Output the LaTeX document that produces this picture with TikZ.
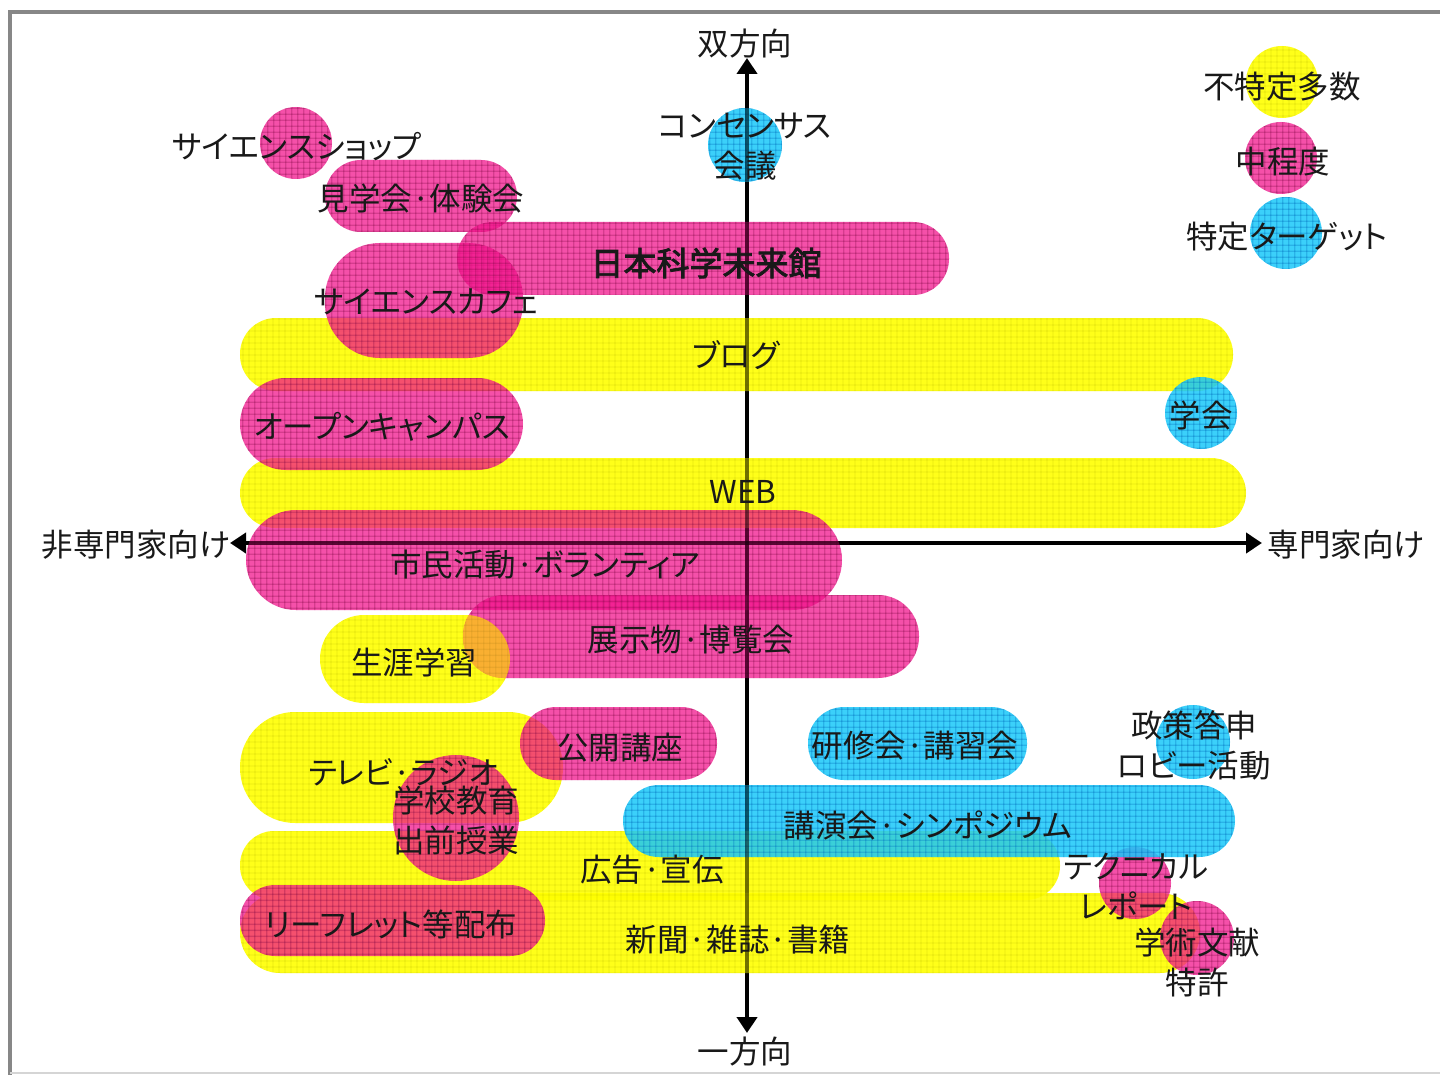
\documentclass[tikz,border=0pt]{standalone}
\usepackage{fontspec}
\newfontfamily\jp[RawFeature=+palt,AutoFakeBold=2.5]{Noto Sans CJK JP}
\usetikzlibrary{arrows.meta,patterns.meta}
\definecolor{cY}{RGB}{255,255,0}
\definecolor{cP}{RGB}{242,20,140}
\definecolor{cB}{RGB}{25,200,250}
\definecolor{gY}{RGB}{190,190,0}
\definecolor{gP}{RGB}{125,5,65}
\definecolor{gB}{RGB}{0,110,190}
\definecolor{framecol}{RGB}{135,135,135}
\definecolor{ink}{RGB}{25,25,25}
\tikzset{
  yel/.style={fill=cY, fill opacity=0.9,
    postaction={pattern={Hatch[angle=0,distance=6.4pt,line width=0.35pt]}, pattern color=gY}},
  pnk/.style={fill=cP, fill opacity=0.74,
    postaction={pattern={Hatch[angle=0,distance=6.4pt,line width=0.55pt]}, pattern color=gP}},
  blu/.style={fill=cB, fill opacity=0.85,
    postaction={pattern={Hatch[angle=0,distance=6.4pt,line width=0.45pt]}, pattern color=gB}},
  yelveil/.style={fill=cY, fill opacity=0.55},
  lbl/.style={font=\jp\fontsize{31.5}{40}\selectfont, text=ink, inner sep=0pt, align=center},
  axisline/.style={line width=4.5pt, draw=black,
    {Triangle[length=16pt,width=20pt]}-{Triangle[length=16pt,width=20pt]}},
  axisover/.style={line width=4.5pt, draw=black, draw opacity=0.5,
    shorten >=16pt, shorten <=16pt},
  framel/.style={draw=framecol, line width=4.5pt},
}
\begin{document}
\begin{tikzpicture}[x=1pt,y=-1pt]
\useasboundingbox (0,0) rectangle (1440,1075);
\fill[white] (0,0) rectangle (1440,1075);
% frame
\coordinate (fbl) at (10,1075);
\coordinate (ftl) at (10,12);
\coordinate (ftr) at (1440,12);
\draw[framel] (fbl) -- (ftl) -- (ftr);
\draw[draw=framecol!35, line width=2pt] (10,1073) -- (1440,1073);

% axes
\coordinate (vtop) at (747,58);
\coordinate (vbot) at (747,1033);
\coordinate (hl) at (230,543);
\coordinate (hr) at (1262,543);
\draw[axisline] (vbot) -- (vtop);
\draw[axisline] (hl) -- (hr);

% ---------- yellow shapes
\path[yel, rounded corners=36pt] (240,318) rectangle (1233,391);
\path[yel, rounded corners=35pt] (240,458) rectangle (1246,528);
\path[yel, rounded corners=44pt] (320,615) rectangle (510,703);
\path[yel, rounded corners=55pt] (240,712) rectangle (563,823);
\path[yel, rounded corners=34pt] (240,831) rectangle (1060,900);
\path[yel, rounded corners=40pt] (240,893) rectangle (1200,973);
\path[yel] (1282,82) circle[radius=36pt];

% ---------- pink shapes
\path[pnk] (296,143) circle[radius=36pt];
\path[pnk, rounded corners=36pt] (325,160) rectangle (517,232);
\path[pnk, rounded corners=36pt] (457,222) rectangle (949,295);
\path[pnk, rounded corners=55pt] (325,243) rectangle (523,358);
\path[pnk, rounded corners=46pt] (240,378) rectangle (523,470);
\path[pnk, rounded corners=50pt] (246,510) rectangle (842,610);
\path[pnk, rounded corners=41pt] (463,595) rectangle (919,678);
\path[pnk, rounded corners=36pt] (520,707) rectangle (717,780);
\path[pnk] (456,818) circle[radius=63pt];
\path[pnk] (1135,883) circle[radius=36pt];
\path[pnk, rounded corners=35pt] (240,885) rectangle (545,956);
\path[pnk] (1197,938) circle[radius=37pt];
\path[pnk] (1281,158) circle[radius=36pt];

% the lifelong-learning pill lies over the exhibition pill
\begin{scope}
  \clip[rounded corners=41pt] (463,595) rectangle (919,678);
  \path[yelveil, rounded corners=44pt] (320,615) rectangle (510,703);
\end{scope}

% ---------- blue shapes
\path[blu] (745,145) circle[radius=37pt];
\path[blu] (1201,413) circle[radius=36pt];
\path[blu, rounded corners=36pt] (808,707) rectangle (1027,780);
\path[blu] (1193,742) circle[radius=37pt];
\path[blu, rounded corners=36pt] (623,785) rectangle (1235,857);
\path[blu] (1286,233) circle[radius=36pt];

% axes seen through the shapes
\draw[axisover] (vbot) -- (vtop);
\draw[axisover] (hl) -- (hr);

% ---------- labels
\node[lbl] (lup) at (745,44) {双方向};
\node[lbl] (ldown) at (745,1052) {一方向};
\node[lbl] (lleft) at (136,545) {非専門家向け};
\node[lbl] (lright) at (1346,545) {専門家向け};

\node[lbl] (leg1) at (1282,87) {不特定多数};
\node[lbl] (leg2) at (1283,162) {中程度};
\node[lbl] (leg3) at (1287,237) {特定ターゲット};

\node[lbl] (t1) at (297,147) {サイエンスショップ};
\node[lbl] (t2) at (421,198) {見学会·体験会};
\node[lbl, font=\jp\bfseries\fontsize{33}{40}\selectfont] (t3) at (706,263) {日本科学未来館};
\node[lbl] (t4) at (426,302) {サイエンスカフェ};
\node[lbl] (t5) at (736,355) {ブログ};
\node[lbl] (t6) at (382,427) {オープンキャンパス};
\node[lbl] (t7) at (1201,415) {学会};
\node[lbl] (t8) at (743,492) {WEB};
\node[lbl] (t9) at (545,565) {市民活動·ボランティア};
\node[lbl] (t10) at (691,640) {展示物·博覧会};
\node[lbl] (t11) at (414,662) {生涯学習};
\node[lbl] (t12) at (620,748) {公開講座};
\node[lbl] (t13) at (915,746) {研修会·講習会};
\node[lbl] (t14) at (1194,745) {政策答申\\ロビー活動};
\node[lbl] (t15) at (403,772) {テレビ·ラジオ};
\node[lbl] (t16) at (456,820) {学校教育\\出前授業};
\node[lbl] (t17) at (928,825) {講演会·シンポジウム};
\node[lbl] (t18) at (652,870) {広告·宣伝};
\node[lbl] (t19) at (1136,886) {テクニカル\\レポート};
\node[lbl] (t20) at (391,924) {リーフレット等配布};
\node[lbl] (t21) at (738,940) {新聞·雑誌·書籍};
\node[lbl] (t22) at (1197,962) {学術文献\\特許};
\node[lbl] (t23) at (745,147) {コンセンサス\\会議};
\end{tikzpicture}
\end{document}
